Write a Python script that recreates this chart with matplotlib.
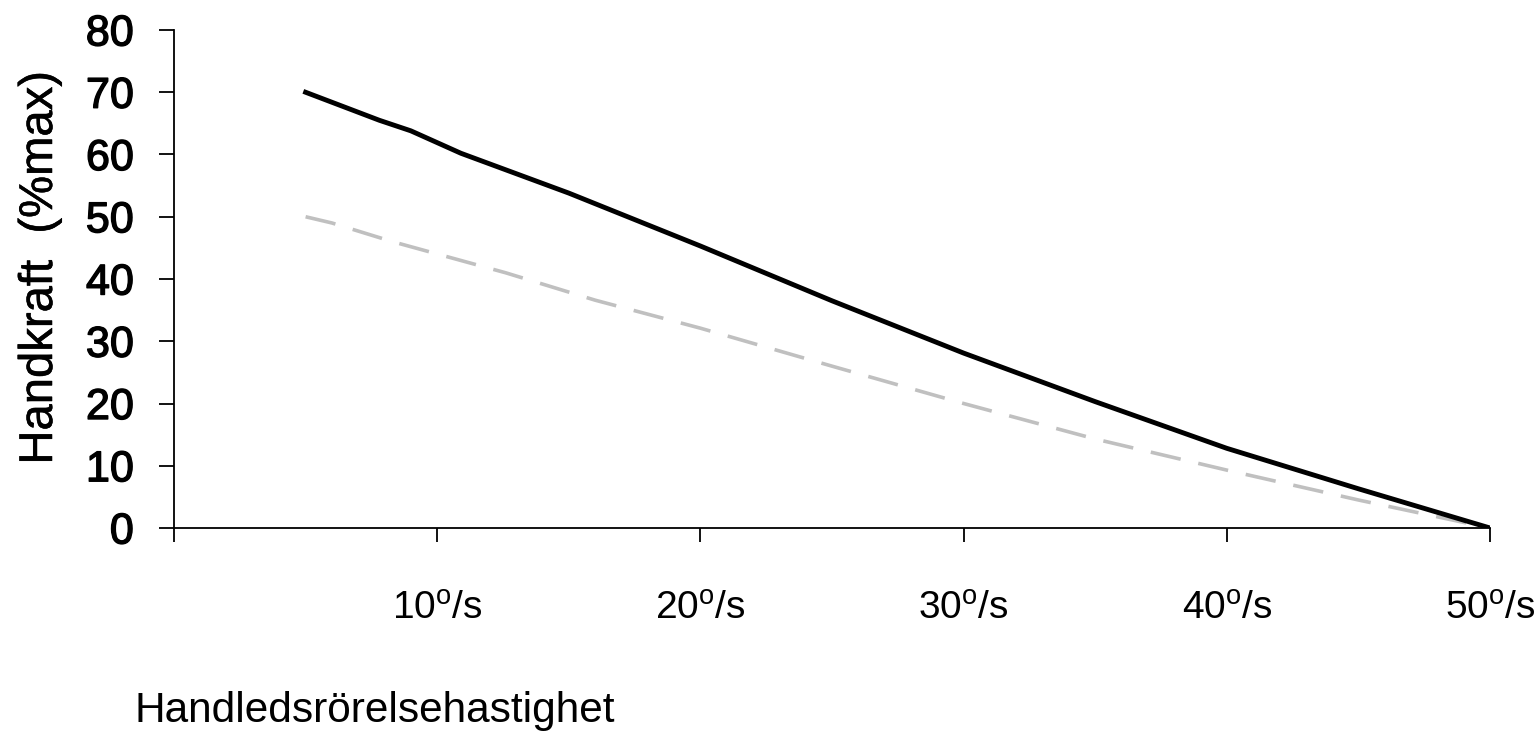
import matplotlib
matplotlib.use("Agg")
import matplotlib.pyplot as plt
import matplotlib.patheffects as pe

plt.rcParams['font.family'] = ['Liberation Sans', 'DejaVu Sans']
plt.rcParams['mathtext.fontset'] = 'custom'
plt.rcParams['mathtext.rm'] = 'Liberation Sans'

# Wrist movement speed (deg/s) and hand force (% of max)
speed_black = [5, 7.8, 9, 10.9, 15, 20, 25, 30, 35, 40, 45, 50]
force_black = [70, 65.5, 63.8, 60.2, 53.8, 45.3, 36.5, 28.1, 20.3, 12.8, 6.3, 0]

speed_gray = [5, 6, 8.3, 12.6, 16, 20, 25, 30, 35, 40, 45, 50]
force_gray = [50, 49, 46, 41, 36.6, 32.1, 26, 20, 14.3, 9.3, 4.5, 0]

x_ticks = [0, 10, 20, 30, 40, 50]
x_tick_labels = ["", r"10$^{\mathrm{o}}$/s", r"20$^{\mathrm{o}}$/s",
                 r"30$^{\mathrm{o}}$/s", r"40$^{\mathrm{o}}$/s",
                 r"50$^{\mathrm{o}}$/s"]
y_ticks = [0, 10, 20, 30, 40, 50, 60, 70, 80]

heavy = [pe.withStroke(linewidth=1.0, foreground='black')]
semi = [pe.withStroke(linewidth=0.4, foreground='black')]

fig = plt.figure(figsize=(15.38, 7.32), dpi=100)
ax = fig.add_axes([174/1538, 1-528/732, (1490-174)/1538, (528-30)/732])

ax.plot(speed_gray, force_gray, color='#c0c0c0', lw=2.6, dashes=(8.5, 5),
        zorder=2)
ax.plot(speed_black, force_black, color='black', lw=3.5, zorder=3)

ax.set_xlim(0, 50)
ax.set_ylim(0, 80)
ax.set_xticks(x_ticks)
ax.set_xticklabels(x_tick_labels)
ax.set_yticks(y_ticks)

for s in ['top', 'right']:
    ax.spines[s].set_visible(False)
for s in ['left', 'bottom']:
    ax.spines[s].set_linewidth(1.3)

ax.tick_params(axis='x', direction='out', length=10, width=1.3, pad=35,
               labelsize=28)
ax.tick_params(axis='y', direction='out', length=11, width=1.3, pad=18,
               labelsize=31)
for lbl in ax.get_yticklabels():
    lbl.set_path_effects(heavy)

fig.text(40/1538, 1-268/732, "Handkraft  (%max)", rotation=90,
         ha='center', va='center', fontsize=34, path_effects=semi)
fig.text(135/1538, 1-722/732, "Handledsrörelsehastighet",
         ha='left', va='baseline', fontsize=30.5)

fig.savefig("out.png", dpi=100)
